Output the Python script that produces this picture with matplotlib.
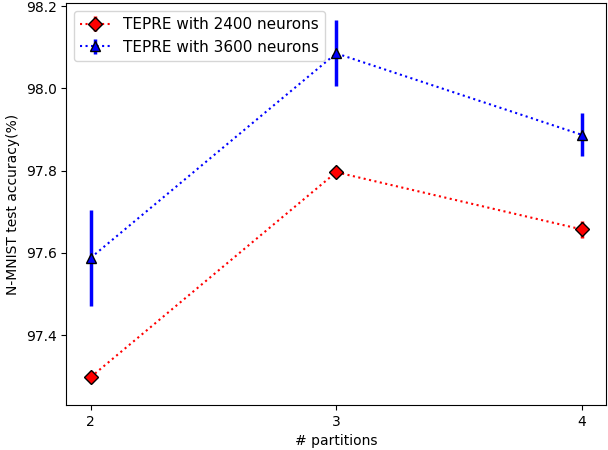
import matplotlib
matplotlib.use('Agg')
import matplotlib.pyplot as plt

partitions = [2, 3, 4]
acc_2400 = [97.298, 97.796, 97.657]
err_2400 = [0.015, 0.01, 0.02]
acc_3600 = [97.588, 98.085, 97.887]
err_3600 = [0.117, 0.08, 0.052]

fig, ax = plt.subplots(figsize=(6.08, 4.5), dpi=100)
fig.subplots_adjust(left=0.109, right=0.997, top=0.993, bottom=0.1)

ax.errorbar(partitions, acc_2400, yerr=err_2400, color='red', linestyle=':',
            linewidth=1.5, elinewidth=2.5, marker='D', markersize=7,
            markerfacecolor='red', markeredgecolor='black',
            label='TEPRE with 2400 neurons')
ax.errorbar(partitions, acc_3600, yerr=err_3600, color='blue', linestyle=':',
            linewidth=1.5, elinewidth=2.5, marker='^', markersize=7,
            markerfacecolor='blue', markeredgecolor='black',
            label='TEPRE with 3600 neurons')

ax.set_xticks(partitions)
ax.set_yticks([97.4, 97.6, 97.8, 98.0, 98.2])
ax.set_ylim(97.23, 98.207)
ax.set_xlabel('# partitions')
ax.set_ylabel('N-MNIST test accuracy(%)')
ax.legend(loc='upper left', fontsize=11)

plt.savefig('out.png')
